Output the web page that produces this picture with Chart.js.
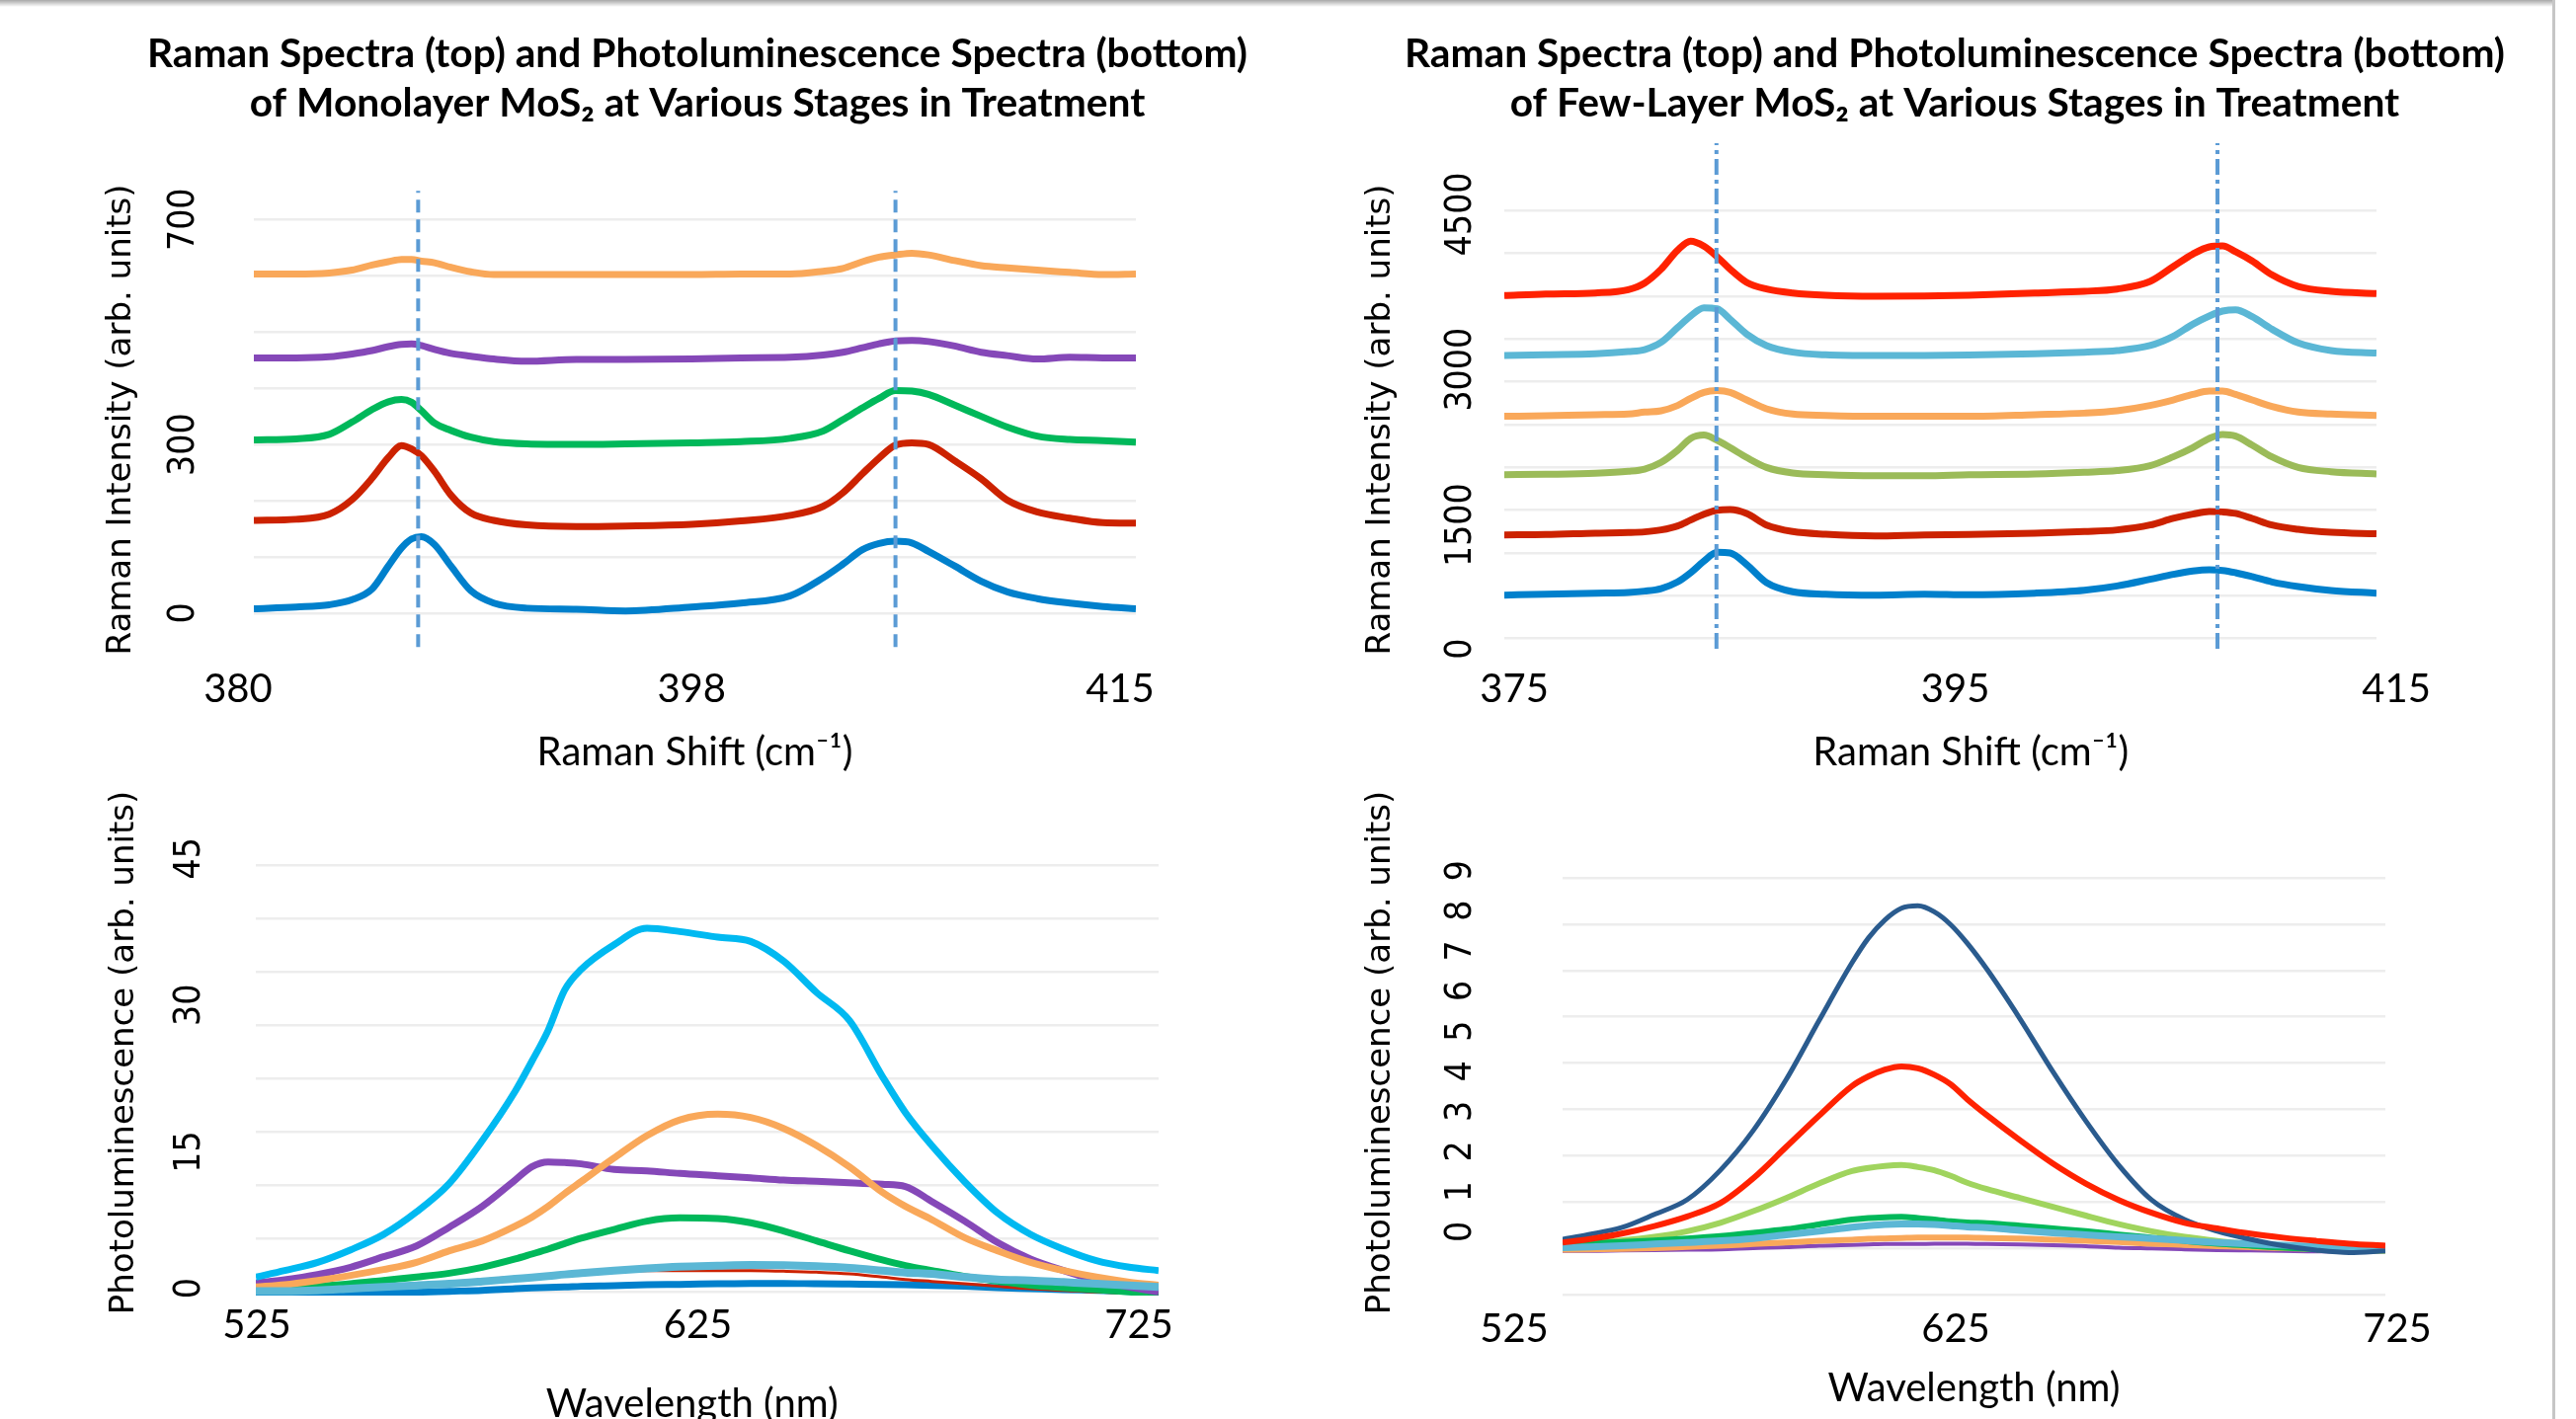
<!DOCTYPE html>
<html>
<head>
<meta charset="utf-8">
<script src="https://cdn.jsdelivr.net/npm/chart.js@4.4.0/dist/chart.umd.min.js"></script>
<style>
  html, body { margin: 0; padding: 0; background: #fff; }
  #page { position: relative; width: 2608px; height: 1437px; overflow: hidden; background: #fff; }
  #page canvas { position: absolute; }
  #topShade { position: absolute; left: 0; top: 0; width: 2585px; height: 7px; background: linear-gradient(#a8a8a8, rgba(255,255,255,0)); }
  #rightEdge { position: absolute; left: 2584px; top: 0; width: 3px; height: 1437px; background: #c6c6c6; }
</style>
</head>
<body>
<div id="page">
  <canvas id="monoRaman" width="1304" height="800" style="left:0;top:0"></canvas>
  <canvas id="fewRaman" width="1304" height="800" style="left:1304px;top:0"></canvas>
  <canvas id="monoPL" width="1304" height="717" style="left:0;top:720px"></canvas>
  <canvas id="fewPL" width="1304" height="717" style="left:1304px;top:720px"></canvas>
  <div id="topShade"></div>
  <div id="rightEdge"></div>
</div>
<script>
// Monolayer Raman (top left)
const monoShift = [380.63, 382.31, 383.62, 384.53, 385.32, 385.97, 386.49, 386.89, 387.28, 387.8, 388.45, 389.24, 390.15, 391.46, 393.42, 395.38, 397.99, 399.95, 401.91, 403.22, 404.0, 404.78, 405.44, 406.09, 406.74, 407.4, 408.44, 409.49, 410.53, 411.71, 413.01, 414.32, 415.63];
const monoRamanBlue = [8, 11, 15, 24, 43, 84, 116, 132, 136, 122, 84, 40, 18, 9, 7, 4, 11, 18, 31, 63, 87, 113, 124, 128, 125, 110, 84, 57, 38, 26, 18, 12, 8];
const monoRamanRed = [165, 167, 176, 202, 240, 277, 298, 292, 280, 252, 210, 178, 165, 157, 154, 155, 158, 164, 174, 190, 214, 248, 276, 299, 303, 300, 271, 239, 201, 180, 169, 161, 160];
const monoRamanGreen = [308, 310, 318, 340, 362, 376, 380, 375, 360, 338, 325, 313, 305, 301, 300, 301, 303, 305, 311, 324, 344, 365, 382, 396, 395, 389, 370, 350, 331, 315, 309, 307, 304];
const monoRamanPurple = [454, 454, 456, 461, 467, 474, 478, 479, 476, 469, 462, 457, 452, 448, 451, 451, 452, 454, 455, 459, 464, 472, 479, 484, 485, 483, 475, 464, 458, 452, 455, 454, 454];
const monoRamanOrange = [603, 603, 605, 610, 619, 625, 629, 629, 626, 623, 615, 607, 602, 602, 602, 602, 602, 603, 603, 608, 613, 625, 633, 637, 640, 637, 627, 618, 614, 610, 606, 602, 603];
const monoPeaks = [387.15, 406.09];
const monoRamanXTicks = [380, 398, 415];
const monoRamanYTicks = [0, 300, 700];

// Few-layer Raman (top right)
const fewShift = [374.55, 376.43, 378.67, 380.17, 380.91, 381.66, 382.41, 383.0, 383.6, 384.2, 384.79, 385.54, 386.44, 387.63, 389.12, 391.36, 393.6, 395.62, 398.6, 400.85, 402.34, 403.83, 404.88, 405.77, 406.52, 407.12, 407.71, 408.46, 409.36, 410.55, 412.04, 414.1];
const fewRamanBlue = [420, 429, 439, 445, 458, 483, 547, 636, 747, 833, 826, 715, 541, 452, 429, 420, 429, 423, 439, 467, 508, 572, 620, 652, 664, 658, 636, 598, 547, 502, 464, 439];
const fewRamanDarkRed = [1001, 1004, 1017, 1023, 1030, 1049, 1087, 1144, 1201, 1239, 1246, 1208, 1096, 1033, 1007, 991, 1001, 1004, 1017, 1033, 1049, 1096, 1160, 1201, 1227, 1223, 1208, 1160, 1096, 1055, 1026, 1011];
const fewRamanOlive = [1582, 1586, 1595, 1614, 1636, 1700, 1817, 1932, 1964, 1913, 1843, 1748, 1652, 1598, 1582, 1573, 1573, 1582, 1589, 1605, 1621, 1668, 1754, 1843, 1932, 1970, 1954, 1868, 1754, 1652, 1611, 1589];
const fewRamanOrange = [2145, 2151, 2161, 2167, 2186, 2199, 2250, 2319, 2377, 2393, 2377, 2303, 2218, 2167, 2154, 2145, 2145, 2145, 2161, 2176, 2199, 2250, 2303, 2357, 2389, 2389, 2357, 2303, 2240, 2186, 2167, 2154];
const fewRamanCyan = [2732, 2739, 2748, 2770, 2789, 2859, 3002, 3114, 3193, 3183, 3082, 2939, 2828, 2764, 2739, 2732, 2732, 2736, 2748, 2764, 2780, 2828, 2917, 3034, 3114, 3161, 3174, 3107, 2986, 2853, 2780, 2755];
const fewRamanRed = [3311, 3326, 3336, 3368, 3431, 3565, 3749, 3835, 3787, 3685, 3565, 3438, 3374, 3336, 3314, 3304, 3307, 3314, 3336, 3352, 3374, 3447, 3590, 3711, 3781, 3790, 3733, 3644, 3511, 3399, 3352, 3330];
const fewPeaks = [384.17, 406.89];
const fewRamanXTicks = [375, 395, 415];
const fewRamanYTicks = [0, 1500, 3000, 4500];

// Monolayer photoluminescence (bottom left)
const monoWavelength = [524.78, 531.34, 538.81, 546.28, 553.74, 561.21, 568.67, 576.14, 583.6, 587.34, 591.07, 594.8, 598.53, 606.0, 613.47, 620.93, 629.51, 636.98, 644.44, 651.91, 659.37, 666.84, 672.07, 678.04, 685.5, 692.97, 700.43, 707.9, 715.37, 722.83, 729.48];
const monoPLBlue = [-1.68, -1.68, -1.65, -1.61, -1.55, -1.48, -1.38, -1.28, -1.11, -1.04, -0.98, -0.94, -0.87, -0.81, -0.71, -0.67, -0.61, -0.57, -0.57, -0.61, -0.64, -0.67, -0.71, -0.77, -0.87, -1.01, -1.11, -1.21, -1.28, -1.38, -1.45];
const monoPLRed = [-1.45, -1.38, -1.21, -1.04, -0.87, -0.67, -0.44, -0.2, 0.07, 0.17, 0.27, 0.37, 0.47, 0.61, 0.74, 0.74, 0.74, 0.74, 0.67, 0.57, 0.4, 0.07, -0.17, -0.37, -0.61, -0.87, -1.11, -1.28, -1.45, -1.55, -1.68];
const monoPLGreen = [-1.28, -1.11, -0.87, -0.61, -0.27, 0.07, 0.47, 1.08, 1.92, 2.42, 2.93, 3.5, 4.04, 4.94, 5.79, 6.12, 6.05, 5.62, 4.78, 3.77, 2.76, 1.82, 1.25, 0.74, 0.14, -0.34, -0.77, -1.01, -1.21, -1.45, -1.61];
const monoPLPurple = [-0.54, -0.2, 0.34, 1.08, 2.15, 3.26, 5.18, 7.3, 9.99, 11.34, 11.84, 11.77, 11.64, 11.07, 10.93, 10.66, 10.43, 10.22, 9.99, 9.86, 9.72, 9.55, 9.32, 7.8, 5.79, 3.6, 1.92, 0.74, -0.27, -0.94, -1.45];
const monoPLOrange = [-0.94, -0.71, -0.27, 0.24, 0.84, 1.58, 2.76, 3.77, 5.28, 6.19, 7.3, 8.61, 9.82, 12.24, 14.53, 16.14, 16.72, 16.38, 15.27, 13.52, 11.34, 8.74, 7.3, 5.95, 4.1, 2.76, 1.58, 0.74, 0.07, -0.44, -0.77];
const monoPLCyan = [0.07, 0.74, 1.58, 2.86, 4.43, 6.73, 9.65, 14.02, 19.07, 22.1, 25.29, 29.4, 31.51, 34.04, 35.72, 35.38, 34.81, 34.37, 32.36, 29.16, 26.3, 20.58, 16.88, 13.52, 9.82, 6.63, 4.44, 2.93, 1.75, 1.08, 0.74];
const monoPLTeal = [-1.35, -1.35, -1.28, -1.11, -0.94, -0.77, -0.61, -0.37, -0.1, 0.03, 0.17, 0.34, 0.47, 0.74, 0.97, 1.14, 1.24, 1.31, 1.28, 1.18, 1.01, 0.74, 0.54, 0.4, 0.07, -0.17, -0.27, -0.44, -0.61, -0.77, -0.94];
const monoPLXTicks = [525, 625, 725];
const monoPLYTicks = [0, 15, 30, 45];

// Few-layer photoluminescence (bottom right)
const fewWavelength = [535.96, 541.85, 549.31, 556.77, 564.22, 571.68, 579.14, 586.6, 594.05, 601.51, 605.24, 608.97, 612.7, 616.42, 620.15, 623.88, 627.61, 632.08, 639.54, 647.0, 654.46, 661.91, 669.37, 676.83, 684.28, 691.74, 699.2, 706.66, 714.11, 722.31];
const fewPLPurple = [-0.74, -0.74, -0.73, -0.72, -0.71, -0.7, -0.67, -0.65, -0.61, -0.59, -0.58, -0.57, -0.57, -0.57, -0.56, -0.56, -0.56, -0.57, -0.58, -0.6, -0.62, -0.66, -0.68, -0.7, -0.72, -0.73, -0.74, -0.75, -0.75, -0.75];
const fewPLOrange = [-0.71, -0.7, -0.69, -0.67, -0.64, -0.61, -0.57, -0.53, -0.49, -0.46, -0.44, -0.43, -0.42, -0.41, -0.41, -0.41, -0.41, -0.42, -0.43, -0.46, -0.49, -0.52, -0.56, -0.59, -0.62, -0.65, -0.67, -0.69, -0.7, -0.71];
const fewPLLightGreen = [-0.57, -0.53, -0.48, -0.39, -0.25, -0.04, 0.25, 0.58, 0.94, 1.25, 1.33, 1.38, 1.4, 1.35, 1.27, 1.13, 0.96, 0.8, 0.58, 0.36, 0.14, -0.07, -0.25, -0.39, -0.49, -0.57, -0.64, -0.7, -0.72, -0.74];
const fewPLGreen = [-0.57, -0.55, -0.52, -0.48, -0.43, -0.37, -0.29, -0.2, -0.08, 0.04, 0.08, 0.1, 0.11, 0.08, 0.04, 0.0, -0.03, -0.05, -0.11, -0.18, -0.25, -0.33, -0.41, -0.49, -0.56, -0.61, -0.66, -0.69, -0.7, -0.72];
const fewPLTeal = [-0.66, -0.64, -0.61, -0.57, -0.53, -0.49, -0.43, -0.34, -0.25, -0.15, -0.11, -0.08, -0.07, -0.07, -0.08, -0.11, -0.14, -0.16, -0.23, -0.29, -0.34, -0.39, -0.43, -0.48, -0.53, -0.57, -0.6, -0.63, -0.66, -0.7];
const fewPLNavy = [-0.45, -0.33, -0.16, 0.17, 0.54, 1.27, 2.26, 3.53, 5.0, 6.44, 7.06, 7.51, 7.8, 7.86, 7.71, 7.39, 6.93, 6.28, 5.05, 3.73, 2.5, 1.4, 0.53, 0.04, -0.25, -0.45, -0.61, -0.72, -0.78, -0.74];
const fewPLRed = [-0.53, -0.45, -0.31, -0.12, 0.12, 0.45, 1.07, 1.85, 2.63, 3.37, 3.61, 3.78, 3.86, 3.81, 3.65, 3.41, 3.04, 2.64, 2.02, 1.44, 0.94, 0.53, 0.21, -0.04, -0.18, -0.31, -0.41, -0.49, -0.56, -0.61];
const fewPLXTicks = [525, 625, 725];
const fewPLYTicks = [0, 1, 2, 3, 4, 5, 6, 7, 8, 9];

const ramanTitle = 'Raman Shift (cm\u207B\u00B9)';
const plTitle = 'Wavelength (nm)';
const nbsp = '\u00A0';

function hasFont(name) {
  const ctx = document.createElement('canvas').getContext('2d');
  const probe = 'mmmmmwwwwwiiiii0123456789';
  ctx.font = '40px monospace';
  const base = ctx.measureText(probe).width;
  ctx.font = `40px '${name}', monospace`;
  return ctx.measureText(probe).width !== base;
}

// the value-axis numbers are set in a narrow face
let tickFont = {family: 'Lato', size: 36};
if (hasFont('Liberation Sans Narrow')) tickFont = {family: "'Liberation Sans Narrow'", size: 46};
else if (hasFont('DejaVu Sans Condensed')) tickFont = {family: "'DejaVu Sans Condensed'", size: 37};

function textWidth(str, font) {
  const ctx = document.createElement('canvas').getContext('2d');
  ctx.font = `${font.size}px ${font.family}`;
  return ctx.measureText(str).width;
}

function zeroPad(s) {
  s.paddingTop = 0;
  s.paddingBottom = 0;
  s.paddingLeft = 0;
  s.paddingRight = 0;
}

function drawPanel(p) {
  const datasets = p.series.map((s, i) => ({
    data: p.xs.map((x, k) => ({x: x, y: s.values[k]})),
    borderColor: s.color,
    borderWidth: s.width || 7,
    pointRadius: 0,
    cubicInterpolationMode: 'monotone',
    order: -i,
  }));
  (p.peaks || []).forEach((x) => {
    datasets.push({
      data: [{x: x, y: p.peakSpan[0]}, {x: x, y: p.peakSpan[1]}],
      borderColor: '#5B9BD5',
      borderWidth: 4,
      borderDash: p.peakDash,
      pointRadius: 0,
      clip: false,
      order: -100,
    });
  });

  let yPad = p.yTickPad;
  if (p.yCross === 'center') {
    const widest = Math.max(...p.yTicks.map((v) => textWidth(String(v), tickFont)));
    yPad = p.yTickPad - widest / 2;
  }

  return new Chart(document.getElementById(p.id), {
    type: 'line',
    data: {datasets: datasets},
    options: {
      responsive: false,
      animation: false,
      devicePixelRatio: 1,
      layout: {padding: {left: p.padLeft, right: 0, top: p.padTop || 0, bottom: 0}},
      plugins: {
        legend: {display: false},
        tooltip: {enabled: false},
        title: {
          display: !!p.title,
          text: p.title,
          color: '#000',
          font: {family: 'Lato', size: 40.7, weight: 'bold', lineHeight: '50px'},
          padding: {top: 30, bottom: p.titleGap || 0},
        },
      },
      scales: {
        x: {
          type: 'linear',
          min: p.xRange[0],
          max: p.xRange[1],
          grid: {display: false, drawTicks: false},
          border: {display: false},
          ticks: {
            autoSkip: false,
            maxRotation: 0,
            padding: p.xTickPad,
            color: '#000',
            font: {family: 'Lato', size: 40},
            callback: (v) => String(v),
          },
          title: {
            display: true,
            text: p.xTitle,
            color: '#000',
            font: {family: 'Lato', size: 40},
            padding: {top: 0, bottom: p.xTitlePad},
          },
          afterBuildTicks: (s) => { s.ticks = p.xTicks.map((v) => ({value: v})); },
          afterFit: (s) => { s.height = p.xAxisHeight; zeroPad(s); },
        },
        y: {
          type: 'linear',
          position: 'left',
          min: p.yRange[0],
          max: p.yRange[1],
          grid: {display: false, drawTicks: false},
          border: {display: false},
          ticks: {
            autoSkip: false,
            minRotation: 90,
            maxRotation: 90,
            crossAlign: p.yCross,
            padding: yPad,
            color: '#000',
            font: tickFont,
            callback: (v, i) => String(p.yTicks[i]),
          },
          title: {
            display: true,
            text: p.yTitle,
            color: '#000',
            font: {family: "'DejaVu Sans'", size: 34},
            padding: {top: p.yTitlePad, bottom: 0},
          },
          afterBuildTicks: (s) => { s.ticks = p.yTicks.map((v) => ({value: v})); },
          afterFit: (s) => { s.width = p.yAxisWidth; zeroPad(s); },
        },
        g: {
          type: 'linear',
          position: 'right',
          min: p.gridRange[0],
          max: p.gridRange[1],
          ticks: {display: false},
          grid: {color: '#EDEDED', lineWidth: 2.5, drawTicks: false},
          border: {display: false},
          afterBuildTicks: (s) => {
            const t = [];
            for (let k = 0; k <= p.gridCount; k++) t.push({value: k});
            s.ticks = t;
          },
          afterFit: (s) => { s.width = p.gridAxisWidth; zeroPad(s); },
        },
      },
    },
  });
}

drawPanel({
  id: 'monoRaman',
  xs: monoShift,
  series: [
    {values: monoRamanBlue, color: '#0080CC'},
    {values: monoRamanRed, color: '#CC2200'},
    {values: monoRamanGreen, color: '#00B85A'},
    {values: monoRamanPurple, color: '#8548B8'},
    {values: monoRamanOrange, color: '#F9A85A'},
  ],
  peaks: monoPeaks,
  peakSpan: [-60, 751],
  peakDash: [13, 7],
  title: ['Raman Spectra (top) and Photoluminescence Spectra (bottom)', 'of Monolayer MoS\u2082 at Various Stages in Treatment'],
  titleGap: 60,
  padLeft: 108,
  xRange: [380.63, 415.63],
  xTicks: monoRamanXTicks,
  xTickPad: 14,
  xTitle: ramanTitle,
  xTitlePad: 14,
  xAxisHeight: 140,
  yRange: [-68.47, 756.67],
  yTicks: monoRamanYTicks,
  yCross: 'center',
  yTickPad: 70.5,
  yTitle: 'Raman Intensity (arb. units)',
  yTitlePad: -5.4,
  yAxisWidth: 149,
  gridRange: [-0.6847, 7.567],
  gridCount: 7,
  gridAxisWidth: 154,
});

drawPanel({
  id: 'fewRaman',
  xs: fewShift,
  series: [
    {values: fewRamanBlue, color: '#0080CC'},
    {values: fewRamanDarkRed, color: '#CC2200'},
    {values: fewRamanOlive, color: '#9BBB59'},
    {values: fewRamanOrange, color: '#F9A85A'},
    {values: fewRamanCyan, color: '#5BB7D5'},
    {values: fewRamanRed, color: '#FF2200'},
  ],
  peaks: fewPeaks,
  peakSpan: [-98, 4781],
  peakDash: [16, 5, 4, 5],
  title: ['Raman Spectra (top) and Photoluminescence Spectra (bottom)', 'of Few-Layer MoS\u2082 at Various Stages in Treatment'],
  titleGap: 60,
  padLeft: 46,
  xRange: [374.55, 414.1],
  xTicks: fewRamanXTicks,
  xTickPad: 14,
  xTitle: nbsp.repeat(6) + ramanTitle,
  xTitlePad: 14,
  xAxisHeight: 140,
  yRange: [-126.75, 4352.4],
  yTicks: fewRamanYTicks,
  yCross: 'near',
  yTickPad: 43.5,
  yTitle: 'Raman Intensity (arb. units)',
  yTitlePad: 27.6,
  yAxisWidth: 173,
  gridRange: [-0.307, 10.538],
  gridCount: 10,
  gridAxisWidth: 202,
});

drawPanel({
  id: 'monoPL',
  xs: monoWavelength,
  series: [
    {values: monoPLBlue, color: '#0080CC'},
    {values: monoPLRed, color: '#CC2200', width: 3},
    {values: monoPLGreen, color: '#00B85A'},
    {values: monoPLPurple, color: '#8548B8'},
    {values: monoPLOrange, color: '#F9A85A'},
    {values: monoPLCyan, color: '#00B9F1'},
    {values: monoPLTeal, color: '#5BB7D5', width: 8},
  ],
  padLeft: 105.6,
  padTop: 100,
  xRange: [524.78, 729.48],
  xTicks: monoPLXTicks,
  xTickPad: 6,
  xTitle: plTitle + nbsp.repeat(3),
  xTitlePad: -9,
  xAxisHeight: 125,
  yRange: [-1.816, 47.83],
  yTicks: monoPLYTicks,
  yCross: 'near',
  yTickPad: 67,
  yTitle: 'Photoluminescence (arb. units)',
  yTitlePad: 0,
  yAxisWidth: 153.4,
  gridRange: [-0.0685, 9.043],
  gridCount: 8,
  gridAxisWidth: 131,
});

drawPanel({
  id: 'fewPL',
  xs: fewWavelength,
  series: [
    {values: fewPLPurple, color: '#8548B8', width: 4},
    {values: fewPLOrange, color: '#F9A85A', width: 6},
    {values: fewPLLightGreen, color: '#A0D45E', width: 6},
    {values: fewPLGreen, color: '#00B85A', width: 6},
    {values: fewPLTeal, color: '#5BB7D5', width: 7},
    {values: fewPLNavy, color: '#2A5B8E', width: 5},
    {values: fewPLRed, color: '#FF2200', width: 6},
  ],
  padLeft: 73.6,
  padTop: 97,
  xRange: [535.96, 722.32],
  xTicks: fewPLXTicks,
  xTickPad: 7,
  xTitle: plTitle,
  xTitlePad: 7,
  xAxisHeight: 122,
  yRange: [-1.927, 10.33],
  yTicks: fewPLYTicks,
  yCross: 'near',
  yTickPad: 102.5,
  yTitle: 'Photoluminescence (arb. units)',
  yTitlePad: 0,
  yAxisWidth: 204.4,
  gridRange: [-0.0875, 10.54],
  gridCount: 9,
  gridAxisWidth: 193,
});
</script>
</body>
</html>
